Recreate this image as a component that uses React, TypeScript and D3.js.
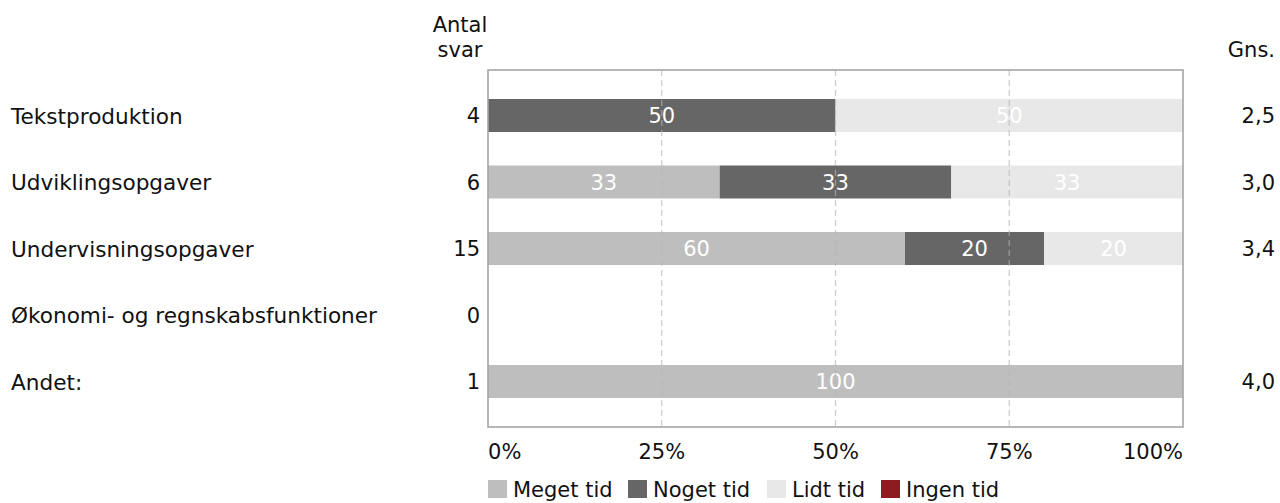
import React from "react";
import * as d3 from "d3";

const categories = [
  "Tekstproduktion",
  "Udviklingsopgaver",
  "Undervisningsopgaver",
  "Økonomi- og regnskabsfunktioner",
  "Andet:",
];
const counts = [4, 6, 15, 0, 1];
const averages = ["2,5", "3,0", "3,4", "", "4,0"];
const seriesNames = ["Meget tid", "Noget tid", "Lidt tid", "Ingen tid"];
const seriesColors = ["#bebebe", "#666666", "#e8e8e8", "#8e1b1f"];
const meget = [0, 33.33, 60, 0, 100];
const noget = [50, 33.33, 20, 0, 0];
const lidt = [50, 33.33, 20, 0, 0];
const ingen = [0, 0, 0, 0, 0];
const xTicks = [0, 25, 50, 75, 100];

const W = 1280;
const H = 503;
const FONT = "Verdana, 'DejaVu Sans', sans-serif";
const FS = 21;
const FS_LABEL = 21.6;

export default function App() {
  const left = 488;
  const right = 1183;
  const top = 70;
  const bottom = 427;
  const x = d3.scaleLinear().domain([0, 100]).range([left, right]);
  const y = d3
    .scaleBand<string>()
    .domain(categories)
    .range([top, bottom])
    .paddingInner(0.504)
    .paddingOuter(0.436);

  const table = categories.map((c, i) => ({
    cat: c,
    s0: meget[i],
    s1: noget[i],
    s2: lidt[i],
    s3: ingen[i],
  }));
  const stack = d3.stack<any>().keys(["s0", "s1", "s2", "s3"])(table);

  return (
    <svg
      width={W}
      height={H}
      style={{ position: "absolute", left: 0, top: 0, fontFamily: FONT }}
    >
      <rect x={0} y={0} width={W} height={H} fill="#fff" />
      {/* headers */}
      <text x={460} y={32} fontSize={FS} textAnchor="middle" fill="#111">
        Antal
      </text>
      <text x={460} y={57} fontSize={FS} textAnchor="middle" fill="#111">
        svar
      </text>
      <text x={1275} y={57} fontSize={FS} textAnchor="end" fill="#111">
        Gns.
      </text>

      {/* bars */}
      {stack.map((layer, si) =>
        layer.map((d, i) => {
          const w = x(d[1]) - x(d[0]);
          if (w <= 0) return null;
          const yy = y(categories[i])!;
          const v = d[1] - d[0];
          return (
            <g key={`${si}-${i}`}>
              <rect
                x={x(d[0])}
                y={yy}
                width={w}
                height={y.bandwidth()}
                fill={seriesColors[si]}
              />
              <text
                x={(x(d[0]) + x(d[1])) / 2}
                y={yy + y.bandwidth() / 2}
                dy="0.38em"
                fontSize={FS}
                textAnchor="middle"
                fill="#fff"
              >
                {Math.round(v)}
              </text>
            </g>
          );
        })
      )}

      {/* grid lines */}
      {xTicks.slice(1, -1).map((t) => (
        <line
          key={t}
          x1={x(t)}
          x2={x(t)}
          y1={top}
          y2={bottom}
          stroke="#b4b4b4"
          strokeOpacity={0.65}
          strokeWidth={1.3}
          strokeDasharray="6,4"
        />
      ))}

      {/* frame */}
      <rect
        x={left}
        y={top}
        width={right - left}
        height={bottom - top}
        fill="none"
        stroke="#a6a6a6"
        strokeWidth={1.6}
      />

      {/* row labels */}
      {categories.map((c, i) => {
        const cy = y(c)! + y.bandwidth() / 2;
        return (
          <g key={c}>
            <text x={11} y={cy} dy="0.38em" fontSize={FS_LABEL} fill="#111">
              {c}
            </text>
            <text
              x={480}
              y={cy}
              dy="0.38em"
              fontSize={FS}
              textAnchor="end"
              fill="#111"
            >
              {counts[i]}
            </text>
            <text
              x={1275}
              y={cy}
              dy="0.38em"
              fontSize={FS}
              textAnchor="end"
              fill="#111"
            >
              {averages[i]}
            </text>
          </g>
        );
      })}

      {/* x tick labels */}
      {xTicks.map((t, i) => (
        <text
          key={t}
          x={x(t)}
          y={459}
          fontSize={FS}
          fill="#111"
          textAnchor={i === 0 ? "start" : i === xTicks.length - 1 ? "end" : "middle"}
        >
          {t}%
        </text>
      ))}

      {/* legend */}
      {(() => {
        const xs = [488, 628, 767, 881];
        return seriesNames.map((n, i) => (
          <g key={n}>
            <rect x={xs[i]} y={480} width={19} height={18} fill={seriesColors[i]} />
            <text x={xs[i] + 25} y={497} fontSize={FS} fill="#111">
              {n}
            </text>
          </g>
        ));
      })()}
    </svg>
  );
}
